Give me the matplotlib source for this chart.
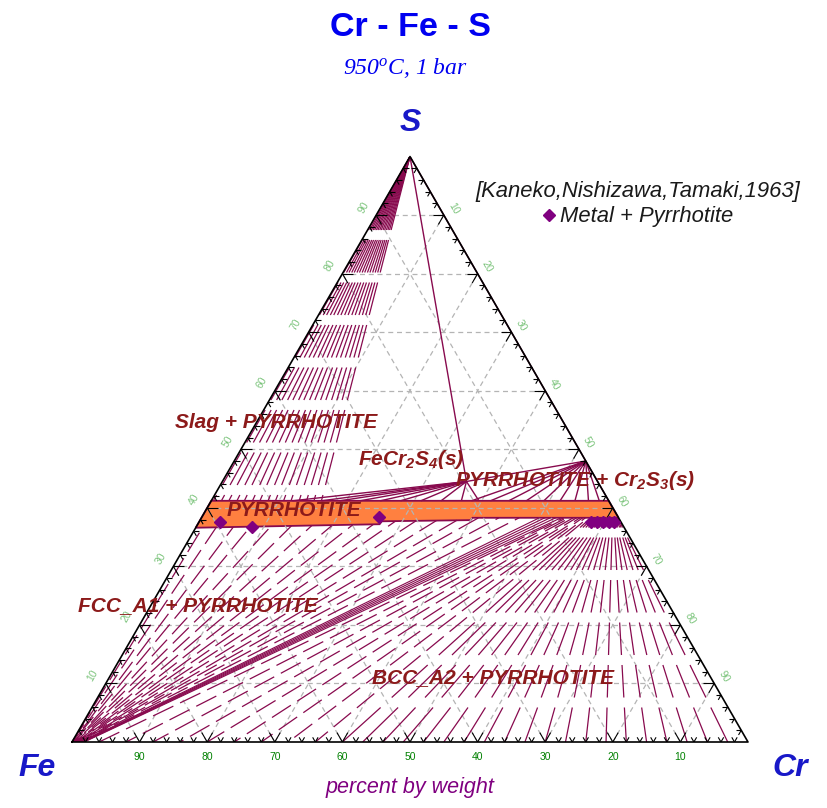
import numpy as np
import matplotlib
matplotlib.use("Agg")
import matplotlib.pyplot as plt
from matplotlib.collections import LineCollection
from matplotlib.lines import Line2D
from matplotlib.patches import Polygon

plt.rcParams['mathtext.default'] = 'regular'

W, H = 827, 808
SQ = np.sqrt(3) / 2

# ---------------- compositions in wt% (Cr, S) ----------------
# pyrrhotite single-phase band
pyr_top_cr = [0.0, 58.8]
pyr_top_s = [41.2, 41.2]
pyr_bot_cr = [0.0, 26.9, 27.0, 40.0, 40.1, 61.7]
pyr_bot_s = [36.6, 37.2, 37.7, 37.9, 38.3, 38.3]

# stoichiometric phases
sulfur_pt = (0.0, 100.0)
fecr2s4_pt = (36.1, 44.5)
cr2s3_pt = (52.0, 48.0)

# liquid S + pyrrhotite (pyrrhotite Cr on the S-rich boundary)
slag_pyr_cr = [0.3, 1.5, 2.6, 3.8, 4.9, 6.1, 7.2, 8.4, 9.5, 10.7, 11.8, 13.0, 14.1, 15.2, 16.3]
# FeCr2S4 + pyrrhotite
fcs_pyr_cr = [12.0, 16.3, 19.0, 22.0, 25.0, 28.0, 31.0, 34.0, 37.0, 39.6]
# pyrrhotite + Cr2S3
c23_pyr_cr = [38.5, 41.3, 44.0, 46.6, 49.2, 51.6, 53.8, 55.8, 57.4, 58.8]
# FCC_A1 + pyrrhotite (metal Cr, pyrrhotite Cr)
fcc_metal_cr = [0.0, 0.0, 0.1, 0.1, 0.2, 0.2, 0.3, 0.4, 0.5, 0.6, 0.7, 0.8, 0.9, 1.0, 1.1, 1.2, 1.3]
fcc_pyr_cr = [1.0, 3.0, 5.5, 8.0, 11.0, 14.0, 17.0, 20.0, 23.0, 26.0, 29.0, 32.0, 35.0, 38.0, 41.0, 44.0, 47.0]
# FCC_A1 + BCC_A2 + pyrrhotite
tri_metal_cr = [1.4, 1.5, 1.6, 1.7, 1.8]
tri_pyr_cr = [50.0, 50.8, 51.6, 52.4, 53.2]
# BCC_A2 + pyrrhotite
bcc_metal_cr = [4, 8, 12, 16, 20, 24, 28, 32, 36, 40, 43, 46, 49, 52, 55, 58, 61,
                64, 67, 70, 73, 76, 79, 82, 85, 88, 91, 94, 97]
bcc_pyr_cr = [53.6, 54.0, 54.5, 55.0, 55.5, 56.0, 56.4, 56.8, 57.2, 57.6, 57.9, 58.2,
              58.5, 58.8, 59.1, 59.4, 59.6, 59.8, 60.0, 60.2, 60.4, 60.6, 60.8, 61.0,
              61.1, 61.2, 61.4, 61.5, 61.6]

# Kaneko, Nishizawa, Tamaki (1963): metal + pyrrhotite, pyrrhotite side
exp_cr = [3.1, 8.3, 26.2, 58.0, 58.9, 59.7, 60.6, 61.4]
exp_s = [37.6, 36.8, 38.5, 37.6, 37.6, 37.6, 37.6, 37.6]

tick_values = [10, 20, 30, 40, 50, 60, 70, 80, 90]

# ---------------- colours ----------------
TIE = '#880a4e'
LABEL = '#8c1a1a'
ORANGE = '#ff8040'
BLUE = '#0000f0'
VBLUE = '#1818c8'


def xy(cr, s):
    cr = np.asarray(cr, float) / 100.0
    s = np.asarray(s, float) / 100.0
    return cr + s / 2.0, s * SQ


def bottom_s(cr):
    return np.interp(cr, pyr_bot_cr, pyr_bot_s)


def top_s(cr):
    return np.interp(cr, pyr_top_cr, pyr_top_s)


# horizontal breaks in the tie-line hatching (pixel rows)
gap_rows = [235 + 42.5 * k for k in range(12)]
gaps = [((742 - r - 5) / 676.0, (742 - r + 5) / 676.0) for r in gap_rows]


def striped(p0, p1):
    (x0, y0), (x1, y1) = p0, p1
    if abs(y1 - y0) < 1e-12:
        return [[p0, p1]]
    pieces = [(0.0, 1.0)]
    for lo, hi in gaps:
        ta, tb = sorted(((lo - y0) / (y1 - y0), (hi - y0) / (y1 - y0)))
        new = []
        for a, b in pieces:
            if tb <= a or ta >= b:
                new.append((a, b))
                continue
            if ta > a:
                new.append((a, ta))
            if tb < b:
                new.append((tb, b))
        pieces = new
    return [[(x0 + a * (x1 - x0), y0 + a * (y1 - y0)),
             (x0 + b * (x1 - x0), y0 + b * (y1 - y0))] for a, b in pieces]


fig = plt.figure(figsize=(W / 100, H / 100), dpi=100)
ax = fig.add_axes([72 / W, 66 / H, 676 / W, 676 * SQ / H])
ax.set_xlim(0, 1)
ax.set_ylim(0, SQ)
ax.axis('off')

# pyrrhotite band
band_cr = list(pyr_top_cr) + list(pyr_bot_cr[::-1])
band_s = list(pyr_top_s) + list(pyr_bot_s[::-1])
bx, by = xy(band_cr, band_s)
ax.add_patch(Polygon(np.column_stack([bx, by]), closed=True, facecolor=ORANGE,
                     edgecolor=TIE, lw=1.3, zorder=2, clip_on=False))

# grid
grid = []
for v in tick_values:
    grid.append([xy(0, v), xy(100 - v, v)])
    grid.append([xy(v, 0), xy(v, 100 - v)])
    grid.append([xy(100 - v, 0), xy(0, 100 - v)])
ax.add_collection(LineCollection(grid, colors='#b4b4b4', lw=0.9,
                                 linestyles=(0, (4, 3)), zorder=3))

# tie lines: striped fields (steep lines), dashed (shallow lines)
seg_striped, seg_dashed = [], []
sx, sy = xy(*sulfur_pt)
for c in slag_pyr_cr:
    seg_striped += striped((sx, sy), xy(c, top_s(c)))
for m, p in zip(bcc_metal_cr, bcc_pyr_cr):
    p0, p1 = xy(m, 0), xy(p, bottom_s(p))
    if m < 38:
        seg_dashed.append([p0, p1])
    else:
        seg_striped += striped(p0, p1)
seg_dashed += [[xy(m, 0), xy(p, bottom_s(p))] for m, p in zip(fcc_metal_cr, fcc_pyr_cr)]
ax.add_collection(LineCollection(seg_striped, colors=TIE, lw=0.9, zorder=4))
dash_offsets = [0, 9, 4, 15, 2, 12, 7, 18, 5, 14, 1, 10, 16, 3, 8, 13, 6, 11]
dash_styles = [(dash_offsets[i % len(dash_offsets)], (18, 6)) for i in range(len(seg_dashed))]
ax.add_collection(LineCollection(seg_dashed, colors=TIE, lw=0.9,
                                 linestyles=dash_styles, zorder=4))
seg_tri = [[xy(m, 0), xy(p, bottom_s(p))] for m, p in zip(tri_metal_cr, tri_pyr_cr)]
ax.add_collection(LineCollection(seg_tri, colors=TIE, lw=0.8, zorder=4))

# sulfide fans
fx, fy = xy(*fecr2s4_pt)
cx, cy = xy(*cr2s3_pt)
seg_fan = [[(fx, fy), xy(c, top_s(c))] for c in fcs_pyr_cr]
seg_fan += [[(cx, cy), xy(c, top_s(c))] for c in c23_pyr_cr]
seg_fan += [[(sx, sy), (fx, fy)], [(fx, fy), (cx, cy)], [(sx, sy), (cx, cy)]]
ax.add_collection(LineCollection(seg_fan, colors=TIE, lw=1.0, zorder=4))

# triangle outline
tri_x, tri_y = xy([0, 100, 0, 0], [0, 0, 100, 0])
ax.plot(tri_x, tri_y, color='black', lw=1.2, zorder=5, clip_on=False)

# ticks
ticks = []
for v in range(2, 100, 2):
    L = 0.016 if v % 10 == 0 else 0.008
    bx0, by0 = xy(v, 0)
    ticks += [[(bx0, by0), (bx0 - 0.5 * L, by0 + SQ * L)], [(bx0, by0), (bx0 + 0.5 * L, by0 + SQ * L)]]
    lx0, ly0 = xy(0, v)
    ticks += [[(lx0, ly0), (lx0 + L, ly0)], [(lx0, ly0), (lx0 + 0.5 * L, ly0 - SQ * L)]]
    rx0, ry0 = xy(v, 100 - v)
    ticks += [[(rx0, ry0), (rx0 - L, ry0)], [(rx0, ry0), (rx0 - 0.5 * L, ry0 - SQ * L)]]
ax.add_collection(LineCollection(ticks, colors='black', lw=0.8, zorder=6))

# tick labels
for v in tick_values:
    x0, y0 = xy(100 - v, 0)
    ax.text(x0, y0 - 0.022, f'{v}', ha='center', va='center', fontsize=7.5,
            color='#008000', family='Liberation Sans', clip_on=False)
    x0, y0 = xy(0, v)
    ax.text(x0 - 0.019, y0 + 0.012, f'{v}', ha='center', va='center', fontsize=7.5,
            rotation=60, color='#7cc47c', family='Liberation Sans', clip_on=False)
    x0, y0 = xy(v, 100 - v)
    ax.text(x0 + 0.014, y0 + 0.010, f'{v}', ha='center', va='center', fontsize=7.5,
            rotation=-60, color='#7cc47c', family='Liberation Sans', clip_on=False)

# measured pyrrhotite compositions
ex, ey = xy(exp_cr, exp_s)
ax.plot(ex, ey, 'D', color='#800080', ms=6, zorder=7, clip_on=False)


def ftext(px, py, s, **kw):
    fig.text(px / W, 1 - py / H, s, **kw)


ftext(410, 27, 'Cr - Fe - S', ha='center', va='center', fontsize=24.5,
      fontweight='bold', color=BLUE, family='Liberation Sans')
ftext(405, 68, '950$^o$C, 1 bar', ha='center', va='center', fontsize=17,
      style='italic', color=BLUE, family='Liberation Serif')
for px, py, s in [(410, 123, 'S'), (37, 768, 'Fe'), (790, 768, 'Cr')]:
    ftext(px, py, s, ha='center', va='center', fontsize=23, fontweight='bold',
          style='italic', color=VBLUE, family='Liberation Sans')
ftext(410, 787, 'percent by weight', ha='center', va='center', fontsize=15.5,
      style='italic', color='#800080', family='Liberation Sans')

for px, py, s in [(175, 423, 'Slag + PYRRHOTITE'),
                  (358, 460, 'FeCr$_2$S$_4$(s)'),
                  (455, 480, 'PYRRHOTITE + Cr$_2$S$_3$(s)'),
                  (227, 510, 'PYRRHOTITE'),
                  (78, 606, 'FCC_A1 + PYRRHOTITE'),
                  (372, 678, 'BCC_A2 + PYRRHOTITE')]:
    ftext(px, py, s, ha='left', va='center', fontsize=15, style='italic',
          fontweight='bold', color=LABEL, family='Liberation Sans', zorder=8)

handle = Line2D([], [], ls='none', marker='D', color='#800080', ms=6)
leg = fig.legend([handle], ['Metal + Pyrrhotite'], loc='upper center',
                 bbox_to_anchor=(638 / W, 1 - 170 / H), frameon=False,
                 title='[Kaneko,Nishizawa,Tamaki,1963]',
                 prop={'family': 'Liberation Sans', 'style': 'italic', 'size': 15.8},
                 title_fontproperties={'family': 'Liberation Sans', 'style': 'italic', 'size': 15.8},
                 handlelength=0.5, handletextpad=0.25, borderpad=0, labelspacing=0.2)
leg._legend_box.align = 'center'
for t in leg.get_texts():
    t.set_color('#1a1a1a')
leg.get_title().set_color('#1a1a1a')

fig.savefig('out.png', dpi=100)
